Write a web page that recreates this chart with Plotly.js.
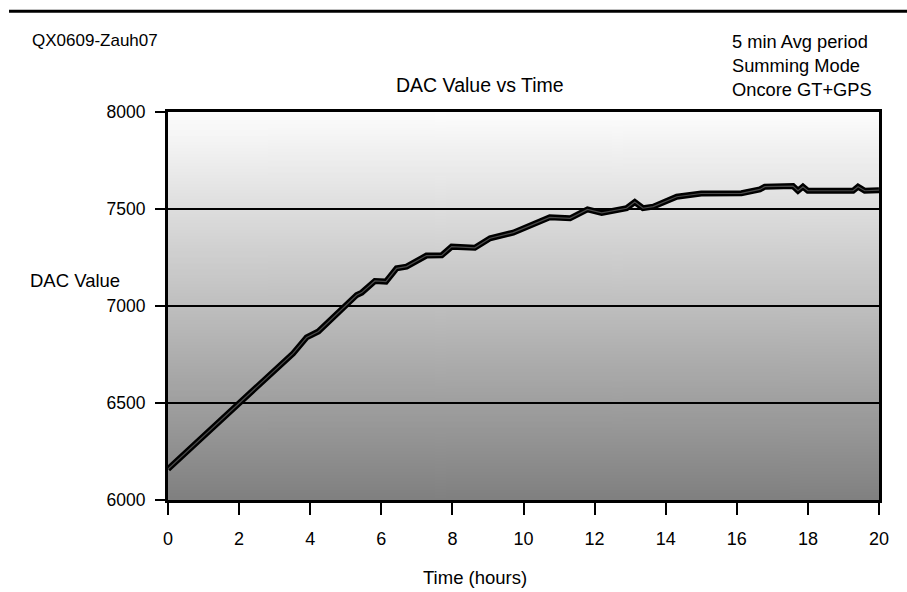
<!DOCTYPE html>
<html>
<head>
<meta charset="utf-8">
<script src="https://cdn.plot.ly/plotly-3.0.1.min.js"></script>
<style>html,body{margin:0;padding:0;background:#fff;}#chart{width:907px;height:592px;}</style>
</head>
<body>
<div id="chart"></div>
<script>
// Data
const timeHours = [0, 2.0, 3.52, 3.9, 4.23, 5.31, 5.45, 5.82, 6.13, 6.43, 6.71, 7.27, 7.7, 7.98, 8.63, 9.06, 9.71, 10.74, 11.31, 11.8, 12.2, 12.9, 13.13, 13.36, 13.65, 14.31, 15.0, 16.13, 16.65, 16.79, 17.58, 17.72, 17.86, 18.0, 19.27, 19.41, 19.6, 20];
const dacValue = [6160, 6497, 6756, 6838, 6869, 7057, 7069, 7129, 7126, 7194, 7203, 7260, 7261, 7306, 7300, 7349, 7378, 7457, 7452, 7498, 7480, 7504, 7536, 7504, 7512, 7563, 7580, 7581, 7601, 7615, 7618, 7594, 7615, 7594, 7594, 7615, 7594, 7597];
const xTickVals = [0, 2, 4, 6, 8, 10, 12, 14, 16, 18, 20];
const yTickVals = [6000, 6500, 7000, 7500, 8000];

const chartTitle = 'DAC Value vs Time';
const xTitle = 'Time (hours)';
const yTitle = 'DAC Value';
const idText = 'QX0609-Zauh07';
const infoLines = ['5 min Avg period', 'Summing Mode', 'Oncore GT+GPS'];

// gradient background image
const cv = document.createElement('canvas');
cv.width = 4; cv.height = 256;
const ctx = cv.getContext('2d');
const g = ctx.createLinearGradient(0, 0, 0, 256);
g.addColorStop(0, '#fdfdfd');
g.addColorStop(1, '#808080');
ctx.fillStyle = g;
ctx.fillRect(0, 0, 4, 256);
const bgURI = cv.toDataURL('image/png');

const FONT = 'Liberation Sans, Arial, Helvetica, sans-serif';

const traces = [
  {x: timeHours, y: dacValue, type: 'scatter', mode: 'lines',
   line: {color: '#000000', width: 6}, hoverinfo: 'skip', showlegend: false},
  {x: timeHours, y: dacValue, type: 'scatter', mode: 'lines',
   line: {color: '#4a4a4a', width: 1.2}, hoverinfo: 'skip', showlegend: false}
];

const layout = {
  width: 907, height: 592,
  margin: {l: 168, r: 28, t: 112, b: 92},
  paper_bgcolor: '#ffffff',
  plot_bgcolor: 'rgba(0,0,0,0)',
  showlegend: false,
  font: {family: FONT, color: '#000', size: 18},
  xaxis: {
    range: [0, 20], tickvals: xTickVals, ticktext: xTickVals.map(String),
    showgrid: false, zeroline: false,
    showline: true, linecolor: '#000', linewidth: 3, mirror: true,
    ticks: 'outside', ticklen: 12, tickwidth: 2, tickcolor: '#000',
    ticklabelstandoff: 8,
    tickfont: {family: FONT, size: 18, color: '#000'}
  },
  yaxis: {
    range: [6000, 8000], tickvals: yTickVals, ticktext: yTickVals.map(String),
    showgrid: true, gridcolor: '#000', gridwidth: 2, zeroline: false,
    showline: true, linecolor: '#000', linewidth: 3, mirror: true,
    ticks: 'outside', ticklen: 10, tickwidth: 2, tickcolor: '#000',
    ticklabelstandoff: 6,
    tickfont: {family: FONT, size: 17.5, color: '#000'}
  },
  images: [{source: bgURI, xref: 'paper', yref: 'paper', x: 0, y: 1, sizex: 1, sizey: 1,
            sizing: 'stretch', xanchor: 'left', yanchor: 'top', layer: 'below'}],
  shapes: [{type: 'line', xref: 'paper', yref: 'paper', x0: -0.2236, x1: 1.04, y0: 1.2595, y1: 1.2595,
            line: {color: '#000', width: 3}}],
  annotations: [
    {text: chartTitle, xref: 'paper', yref: 'paper', x: 0.4388, y: 1.0696, xanchor: 'center', yanchor: 'middle',
     showarrow: false, font: {family: FONT, size: 19.5, color: '#000'}},
    {text: xTitle, xref: 'paper', yref: 'paper', x: 0.4318, y: -0.1985, xanchor: 'center', yanchor: 'middle',
     showarrow: false, font: {family: FONT, size: 18.5, color: '#000'}},
    {text: yTitle, xref: 'paper', yref: 'paper', x: -0.197, y: 0.567, xanchor: 'left', yanchor: 'middle',
     showarrow: false, font: {family: FONT, size: 18.5, color: '#000'}},
    {text: idText, xref: 'paper', yref: 'paper', x: -0.1935, y: 1.183, xanchor: 'left', yanchor: 'middle',
     showarrow: false, font: {family: FONT, size: 17, color: '#000'}},
    {text: infoLines.join('<br>'), xref: 'paper', yref: 'paper', x: 0.790, y: 1.1198, xanchor: 'left', yanchor: 'middle',
     align: 'left', showarrow: false, font: {family: FONT, size: 18.3, color: '#000'}}
  ]
};

Plotly.newPlot('chart', traces, layout, {staticPlot: true, displayModeBar: false});
</script>
</body>
</html>
